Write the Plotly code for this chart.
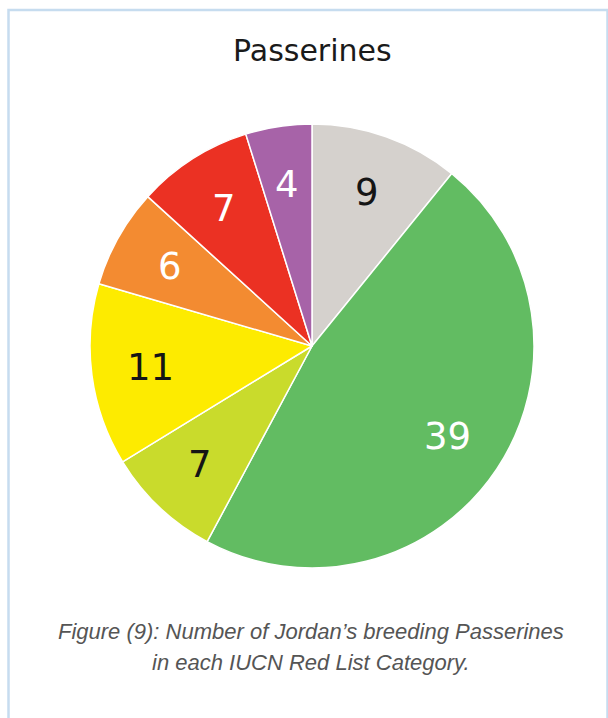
import math
import plotly.graph_objects as go

# ---- data ----
categories = ["Data Deficient", "Least Concern", "Near Threatened", "Vulnerable",
              "Endangered", "Critically Endangered", "Regionally Extinct"]
values = [9, 39, 7, 11, 6, 7, 4]
slice_colors = ["#D5D1CD", "#62BC62", "#C9DB2C", "#FDEB00", "#F38B31", "#EB3123", "#A763A8"]
label_colors = ["#151515", "#FFFFFF", "#151515", "#151515", "#FFFFFF", "#FFFFFF", "#FFFFFF"]
title_text = "Passerines"
caption_lines = ["Figure (9): Number of Jordan’s breeding Passerines",
                 "in each IUCN Red List Category."]

# ---- layout geometry (pixels) ----
W, H = 608, 718
cx, cy, R = 312, 346, 222
label_r = 0.735

fig = go.Figure(go.Pie(
    labels=categories, values=values, sort=False, direction="clockwise", rotation=0,
    marker=dict(colors=slice_colors, line=dict(color="white", width=1.5)),
    textinfo="none", hoverinfo="label+value", showlegend=False,
    domain=dict(x=[(cx - R) / W, (cx + R) / W], y=[1 - (cy + R) / H, 1 - (cy - R) / H]),
))

annotations = []
total = sum(values)
cum = 0
for v, col in zip(values, label_colors):
    mid = (cum + v / 2) / total * 2 * math.pi
    cum += v
    px = cx + label_r * R * math.sin(mid)
    py = cy - label_r * R * math.cos(mid)
    annotations.append(dict(
        x=px / W, y=1 - py / H, xref="paper", yref="paper", text=str(v), showarrow=False,
        xanchor="center", yanchor="middle",
        font=dict(family="DejaVu Sans", size=37, color=col)))

annotations.append(dict(
    x=312 / W, y=1 - 50 / H, xref="paper", yref="paper", text=title_text, showarrow=False,
    xanchor="center", yanchor="middle",
    font=dict(family="DejaVu Sans", size=30, color="#1A1A1A")))

for i, line in enumerate(caption_lines):
    annotations.append(dict(
        x=311 / W, y=1 - (631 + 31 * i) / H, xref="paper", yref="paper",
        text="<i>" + line + "</i>", showarrow=False, xanchor="center", yanchor="middle",
        font=dict(family="Liberation Sans", size=22, color="#555555")))

fig.update_layout(
    width=W, height=H, margin=dict(l=0, r=0, t=0, b=0),
    paper_bgcolor="white", plot_bgcolor="white",
    annotations=annotations,
    shapes=[dict(type="rect", xref="paper", yref="paper",
                 x0=8.5 / W, x1=607.5 / W, y0=-0.05, y1=1 - 10 / H,
                 line=dict(color="#C6DCEF", width=2.5), fillcolor="rgba(0,0,0,0)",
                 layer="below")],
)

fig.write_html("out.html")
